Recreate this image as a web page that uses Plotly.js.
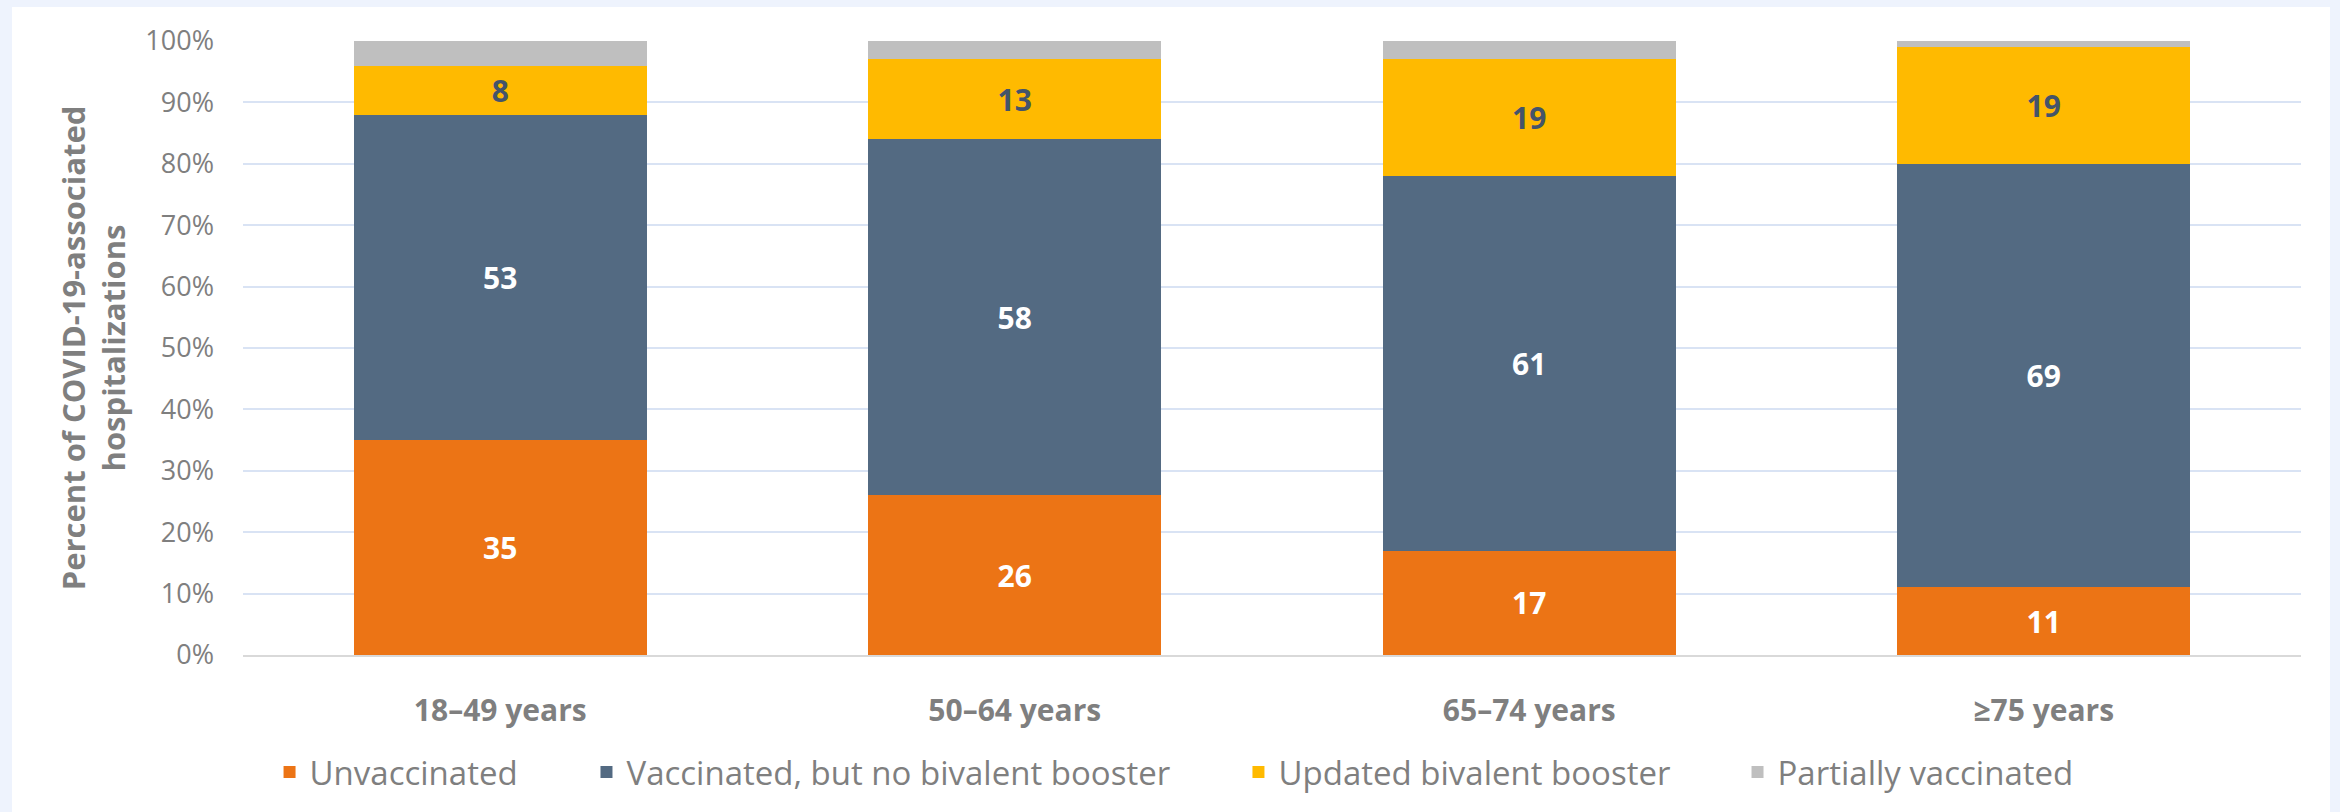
<!DOCTYPE html>
<html><head><meta charset="utf-8">
<script src="https://cdn.plot.ly/plotly-3.0.1.min.js"></script>
<style>
html,body{margin:0;padding:0;background:#EEF3FD;width:2340px;height:812px;overflow:hidden;}
#chart{position:absolute;left:12px;top:7px;width:2318px;height:805px;background:#ffffff;}
</style></head><body><div id="chart"></div>
<script>
// Data (percent of hospitalizations)
const categories = ['18–49 years', '50–64 years', '65–74 years', '≥75 years'];
const unvaccinated = [35, 26, 17, 11];
const vaccinatedNoBivalent = [53, 58, 61, 69];
const updatedBivalent = [8, 13, 19, 19];
const partiallyVaccinated = [4, 3, 3, 1];
const seriesNames = ['Unvaccinated', 'Vaccinated, but no bivalent booster', 'Updated bivalent booster', 'Partially vaccinated'];
const yTickVals = [0, 10, 20, 30, 40, 50, 60, 70, 80, 90, 100];
const yTickLabels = ['0%', '10%', '20%', '30%', '40%', '50%', '60%', '70%', '80%', '90%', '100%'];
const yTitle = 'Percent of COVID-19-associated<br>hospitalizations';

const FONT = 'Open Sans, Lato, sans-serif';
const colors = ['#EC7415', '#536A82', '#FFBA00', '#BFBFBF'];
const labelColors = ['#FFFFFF', '#FFFFFF', '#44546A', '#44546A'];
const seriesValues = [unvaccinated, vaccinatedNoBivalent, updatedBivalent, partiallyVaccinated];
const legendIds = ['legend', 'legend2', 'legend3', 'legend4'];
const legendX = [0.0129, 0.1669, 0.4837, 0.7262];

const traces = seriesValues.map((vals, i) => ({
  type: 'bar',
  name: seriesNames[i],
  x: categories,
  y: vals,
  marker: { color: colors[i], line: { width: 0 } },
  text: i < 3 ? vals.map(v => String(v)) : undefined,
  textposition: i < 3 ? 'inside' : 'none',
  insidetextanchor: 'middle',
  textangle: 0,
  constraintext: 'none',
  textfont: { family: FONT, size: 30, color: labelColors[i], weight: 700 },
  hoverinfo: 'skip',
  legend: legendIds[i],
  showlegend: true
}));

const layout = {
  width: 2318,
  height: 805,
  margin: { l: 231, r: 29, t: 34, b: 157 },
  paper_bgcolor: '#ffffff',
  plot_bgcolor: '#ffffff',
  barmode: 'stack',
  bargap: 0.43,
  font: { family: FONT, color: '#7F7F7F' },
  xaxis: {
    type: 'category',
    showgrid: false,
    showline: true,
    linecolor: '#D9D9D9',
    linewidth: 2,
    ticks: '',
    ticklabelstandoff: 28,
    tickfont: { family: FONT, size: 30, color: '#7F7F7F', weight: 700 },
    fixedrange: true
  },
  yaxis: {
    range: [0, 100],
    tickmode: 'array',
    tickvals: yTickVals,
    ticktext: yTickLabels,
    showgrid: true,
    gridcolor: '#D9E3F4',
    gridwidth: 2,
    zeroline: false,
    showline: false,
    ticks: '',
    ticklabelstandoff: 28,
    tickfont: { family: FONT, size: 27, color: '#7F7F7F' },
    title: {
      text: yTitle,
      font: { family: FONT, size: 31, color: '#7F7F7F', weight: 700 },
      standoff: 10
    },
    automargin: false,
    fixedrange: true
  },
  showlegend: true
};

legendIds.forEach((id, i) => {
  layout[id] = {
    orientation: 'h',
    x: legendX[i],
    xanchor: 'left',
    y: -0.1906,
    yanchor: 'middle',
    bgcolor: 'rgba(0,0,0,0)',
    borderwidth: 0,
    font: { family: FONT, size: 33, color: '#7F7F7F' }
  };
});

Plotly.newPlot('chart', traces, layout, { displayModeBar: false, staticPlot: true });
</script>
</body></html>
